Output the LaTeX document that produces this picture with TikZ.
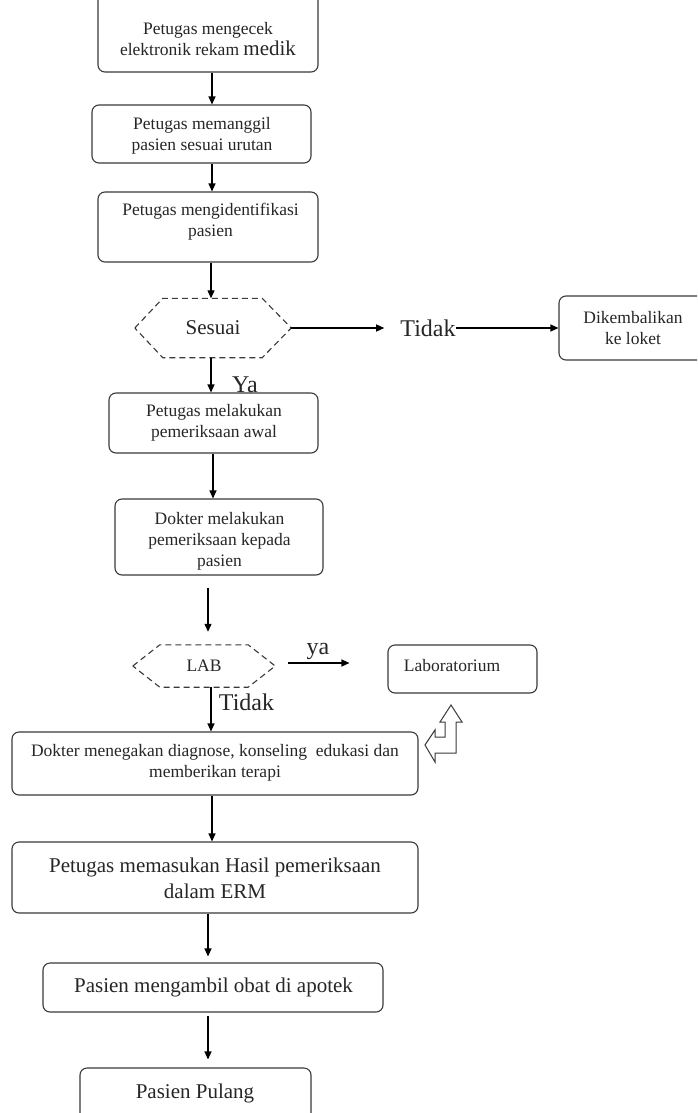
\documentclass[tikz,border=0pt]{standalone}
\usepackage{fontspec}
\setmainfont{Liberation Serif}
\usetikzlibrary{arrows.meta}
\definecolor{linec}{HTML}{3A3A3A}
\definecolor{textc}{HTML}{262626}
\tikzset{
  box/.style={draw=linec, line width=1.1pt, rounded corners=7pt, inner sep=0pt},
  hexbox/.style={draw=none, inner sep=0pt, text=textc},
  hexline/.style={draw=linec, line width=1.1pt, dash pattern=on 6pt off 4pt},
  txt/.style={align=center, inner sep=0pt, text=textc, font=\fontsize{17.5}{21}\selectfont},
  bigtxt/.style={align=center, inner sep=0pt, text=textc, font=\fontsize{21}{26}\selectfont},
  lbl/.style={inner sep=0pt, text=textc, font=\fontsize{24}{24}\selectfont},
  arr/.style={draw=black, line width=1.2pt, -{Triangle[length=8pt,width=7pt]}},
  blockarrow/.style={draw=linec, line width=1pt, fill=white, line join=miter}
}
\begin{document}
\begin{tikzpicture}[x=1pt,y=-1pt]
\useasboundingbox (0,0) rectangle (697,1113);
\clip (0,0) rectangle (697,1113);
\fill[white] (0,0) rectangle (697,1113);

% boxes
\node[box, minimum width=220pt, minimum height=84pt] (b1) at (208,30) {};
\node[box, minimum width=219pt, minimum height=58pt] (b2) at (201.5,134) {};
\node[box, minimum width=220pt, minimum height=70pt] (b3) at (208,227) {};
\node[box, minimum width=161pt, minimum height=64pt] (b4) at (639.5,328) {};
\node[box, minimum width=209pt, minimum height=60pt] (b5) at (213.5,423) {};
\node[box, minimum width=208pt, minimum height=76pt] (b6) at (219,537) {};
\node[box, minimum width=149pt, minimum height=48pt] (b7) at (462.5,669) {};
\node[box, minimum width=406pt, minimum height=63pt] (b8) at (215,763.5) {};
\node[box, minimum width=406pt, minimum height=71pt] (b9) at (215,877.5) {};
\node[box, minimum width=340pt, minimum height=49pt] (b10) at (213,987.5) {};
\node[box, minimum width=231pt, minimum height=62pt] (b11) at (195.5,1099) {};

% texts
\node[txt] (t1) at (208,39) {Petugas mengecek\\elektronik rekam {\fontsize{21}{21}\selectfont medik}};
\node[txt] (t2) at (202,135.5) {Petugas memanggil\\pasien sesuai urutan};
\node[txt] (t3) at (210.5,221.5) {Petugas mengidentifikasi\\pasien};
\node[txt] (t4) at (633,328) {Dikembalikan\\ke loket};
\node[txt] (t5) at (214,423) {Petugas melakukan\\pemeriksaan awal};
\node[txt] (t6) at (219.5,541) {Dokter melakukan\\pemeriksaan kepada\\pasien};
\node[txt] (t7) at (452,666) {Laboratorium};
\node[txt] (t8) at (215,763) {Dokter menegakan diagnose, konseling\ \ edukasi dan\\memberikan terapi};
\node[bigtxt] (t9) at (215,878.5) {Petugas memasukan Hasil pemeriksaan\\dalam ERM};
\node[bigtxt] (t10) at (213.5,987) {Pasien mengambil obat di apotek};
\node[bigtxt] (t11) at (195,1093) {Pasien Pulang};

% hexagons
\node[hexbox, minimum width=156pt, minimum height=59pt, font=\fontsize{21}{21}\selectfont] (h1) at (213,328) {Sesuai};
\draw[hexline] (h1.west) -- ([xshift=28pt]h1.north west) -- ([xshift=-29pt]h1.north east)
  -- (h1.east) -- ([xshift=-29pt]h1.south east) -- ([xshift=28pt]h1.south west) -- cycle;
\node[hexbox, minimum width=142pt, minimum height=42pt, font=\fontsize{17.5}{17.5}\selectfont] (h2) at (204,666) {LAB};
\draw[hexline] (h2.west) -- ([xshift=27pt]h2.north west) -- ([xshift=-27pt]h2.north east)
  -- (h2.east) -- ([xshift=-27pt]h2.south east) -- ([xshift=27pt]h2.south west) -- cycle;

% labels
\node[lbl] (l1) at (428,328) {Tidak};
\node[lbl] (l2) at (245,385) {Ya};
\node[lbl] (l3) at (318,651) {ya};
\node[lbl] (l4) at (246.5,702) {Tidak};

% connectors
\draw[arr] ([xshift=4pt]b1.south) -- ([xshift=10.5pt]b2.north);
\draw[arr] ([xshift=10.5pt]b2.south) -- ([xshift=4pt]b3.north);
\draw[arr] ([xshift=3pt]b3.south) -- ([xshift=-2pt]h1.north);
\draw[arr, shorten >=16pt] (h1.east) -- (l1.west);
\draw[arr] (l1.east) -- (b4.west);
\draw[arr] ([xshift=-2pt]h1.south) -- ([xshift=-2.5pt]b5.north);
\draw[arr] ([xshift=-0.5pt]b5.south) -- ([xshift=-6pt]b6.north);
\draw[arr, shorten <=12pt, shorten >=13pt] ([xshift=-11pt]b6.south) -- ([xshift=4pt]h2.north);
\draw[arr, shorten <=13pt, shorten >=38pt] ([yshift=3pt]h2.east) -- ([yshift=6pt]b7.west);
\draw[arr] ([xshift=7pt]h2.south) -- ([xshift=-4pt]b8.north);
\draw[arr] ([xshift=-3pt]b8.south) -- ([xshift=-3pt]b9.north);
\draw[arr, shorten >=6pt] ([xshift=-7pt]b9.south) -- ([xshift=-5pt]b10.north);
\draw[arr, shorten <=3pt, shorten >=8pt] ([xshift=-5pt]b10.south) -- ([xshift=12.5pt]b11.north);

% block arrow (left-up)
\draw[blockarrow] (451,705) -- (462,722) -- (456,722) -- (456,753) -- (435,753) -- (435,762)
  -- (425,745) -- (435,730) -- (435,737) -- (445,737) -- (445,722) -- (440,722) -- cycle;
\end{tikzpicture}
\end{document}
